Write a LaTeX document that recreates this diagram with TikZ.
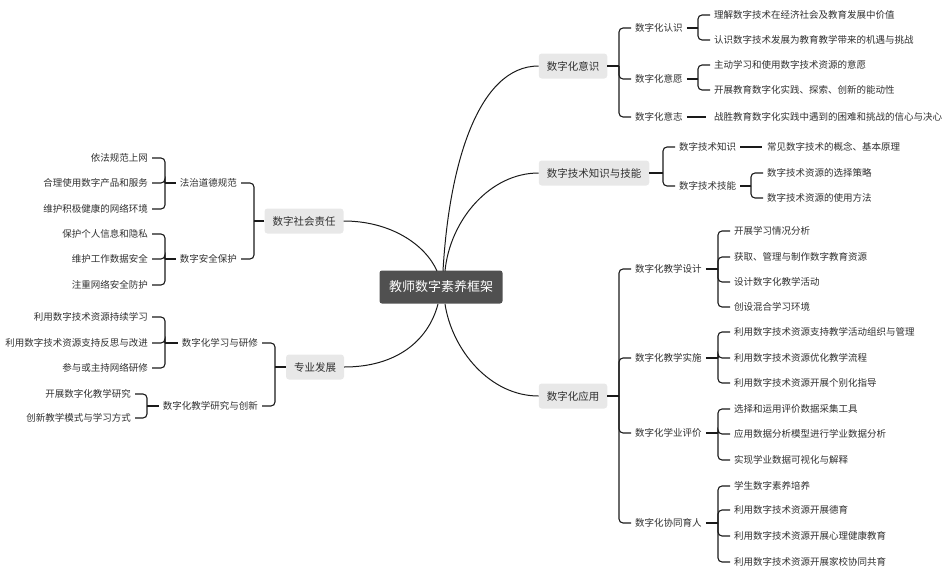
\documentclass[tikz,border=0pt]{standalone}
\usepackage{fontspec}
\setmainfont{Noto Sans CJK SC}
\definecolor{rootgray}{HTML}{505050}
\definecolor{maingray}{HTML}{E8E8E8}
\definecolor{txt}{HTML}{303030}
\definecolor{lnc}{HTML}{1A1A1A}
\begin{document}
\begin{tikzpicture}[x=1pt,y=-1pt,
  root/.style={fill=rootgray,text=white,rounded corners=2.5pt,font=\fontsize{13}{15}\selectfont,minimum width=123pt,minimum height=33pt,inner sep=0pt},
  mainbox/.style={fill=maingray,text=txt,rounded corners=3pt,font=\fontsize{10.5}{12}\selectfont,inner xsep=8pt,minimum height=25pt,inner ysep=0pt},
  subl/.style={text=txt,font=\fontsize{9.5}{11}\selectfont,inner xsep=4pt,inner ysep=2pt},
  ln/.style={draw=lnc,line width=1.1pt},
  br/.style={draw=lnc,line width=1.1pt,rounded corners=4pt},
  cv/.style={draw=lnc,line width=1pt}]
\useasboundingbox (0,0) rectangle (942,565);
% root
\node[root] (r) at (441,287) {教师数字素养框架};
% main branches
\node[mainbox] (m1) at (573,66) {数字化意识};
\node[mainbox] (m2) at (594,173) {数字技术知识与技能};
\node[mainbox] (m3) at (573,396) {数字化应用};
\node[mainbox] (m4) at (304,221) {数字社会责任};
\node[mainbox] (m5) at (315,367) {专业发展};
% curves from root
\draw[cv] (443,271) .. controls (449,165) and (478,66) .. (m1.west);
\draw[cv] (445,271) .. controls (450,220) and (490,173) .. (m2.west);
\draw[cv] (445,304) .. controls (452,350) and (490,396) .. (m3.west);
\draw[cv] (437,271) .. controls (425,244) and (390,221) .. (m4.east);
\draw[cv] (438,304) .. controls (428,342) and (395,367) .. (m5.east);
% ---------- m1 ----------
\node[subl,anchor=west] (a1) at (631,28) {数字化认识};
\node[subl,anchor=west] (a2) at (631,79) {数字化意愿};
\node[subl,anchor=west] (a3) at (631,117) {数字化意志};
\draw[ln] (m1.east) -- (619,66);
\foreach \c in {a1,a2,a3} \draw[br] (619,66) |- (\c.west);
\node[subl,anchor=west] (a11) at (710,15) {理解数字技术在经济社会及教育发展中价值};
\node[subl,anchor=west] (a12) at (710,40) {认识数字技术发展为教育教学带来的机遇与挑战};
\draw[ln] (a1.east) -- (698,28);
\foreach \c in {a11,a12} \draw[br] (698,28) |- (\c.west);
\node[subl,anchor=west] (a21) at (710,65) {主动学习和使用数字技术资源的意愿};
\node[subl,anchor=west] (a22) at (710,90) {开展教育数字化实践、探索、创新的能动性};
\draw[ln] (a2.east) -- (698,79);
\foreach \c in {a21,a22} \draw[br] (698,79) |- (\c.west);
\node[subl,anchor=west] (a31) at (710,117) {战胜教育数字化实践中遇到的困难和挑战的信心与决心};
\draw[ln] (a3.east) -- ([xshift=-4pt]a31.west);
% ---------- m2 ----------
\node[subl,anchor=west] (b1) at (675,147) {数字技术知识};
\node[subl,anchor=west] (b2) at (675,186) {数字技术技能};
\draw[ln] (m2.east) -- (663,173);
\foreach \c in {b1,b2} \draw[br] (663,173) |- (\c.west);
\node[subl,anchor=west] (b11) at (763,147) {常见数字技术的概念、基本原理};
\draw[ln] (b1.east) -- ([xshift=-1pt]b11.west);
\node[subl,anchor=west] (b21) at (763,173) {数字技术资源的选择策略};
\node[subl,anchor=west] (b22) at (763,198) {数字技术资源的使用方法};
\draw[ln] (b2.east) -- (751,186);
\foreach \c in {b21,b22} \draw[br] (751,186) |- (\c.west);
% ---------- m3 ----------
\node[subl,anchor=west] (c1) at (631,269) {数字化教学设计};
\node[subl,anchor=west] (c2) at (631,358) {数字化教学实施};
\node[subl,anchor=west] (c3) at (631,433) {数字化学业评价};
\node[subl,anchor=west] (c4) at (631,523) {数字化协同育人};
\draw[ln] (m3.east) -- (619,396);
\foreach \c in {c1,c2,c3,c4} \draw[br] (619,396) |- (\c.west);
\node[subl,anchor=west] (c11) at (730,231) {开展学习情况分析};
\node[subl,anchor=west] (c12) at (730,257) {获取、管理与制作数字教育资源};
\node[subl,anchor=west] (c13) at (730,282) {设计数字化教学活动};
\node[subl,anchor=west] (c14) at (730,307) {创设混合学习环境};
\draw[ln] (c1.east) -- (718,269);
\foreach \c in {c11,c12,c13,c14} \draw[br] (718,269) |- (\c.west);
\node[subl,anchor=west] (c21) at (730,332) {利用数字技术资源支持教学活动组织与管理};
\node[subl,anchor=west] (c22) at (730,358) {利用数字技术资源优化教学流程};
\node[subl,anchor=west] (c23) at (730,383) {利用数字技术资源开展个别化指导};
\draw[ln] (c2.east) -- (718,358);
\foreach \c in {c21,c22,c23} \draw[br] (718,358) |- (\c.west);
\node[subl,anchor=west] (c31) at (730,409) {选择和运用评价数据采集工具};
\node[subl,anchor=west] (c32) at (730,434) {应用数据分析模型进行学业数据分析};
\node[subl,anchor=west] (c33) at (730,460) {实现学业数据可视化与解释};
\draw[ln] (c3.east) -- (718,433);
\foreach \c in {c31,c32,c33} \draw[br] (718,433) |- (\c.west);
\node[subl,anchor=west] (c41) at (730,486) {学生数字素养培养};
\node[subl,anchor=west] (c42) at (730,510) {利用数字技术资源开展德育};
\node[subl,anchor=west] (c43) at (730,536) {利用数字技术资源开展心理健康教育};
\node[subl,anchor=west] (c44) at (730,562) {利用数字技术资源开展家校协同共育};
\draw[ln] (c4.east) -- (718,523);
\foreach \c in {c41,c42,c43,c44} \draw[br] (718,523) |- (\c.west);
% ---------- m4 ----------
\node[subl,anchor=east] (d1) at (241,183) {法治道德规范};
\node[subl,anchor=east] (d2) at (241,259) {数字安全保护};
\draw[ln] (m4.west) -- (254,221);
\foreach \c in {d1,d2} \draw[br] (254,221) |- (\c.east);
\node[subl,anchor=east] (d11) at (152,158) {依法规范上网};
\node[subl,anchor=east] (d12) at (152,183) {合理使用数字产品和服务};
\node[subl,anchor=east] (d13) at (152,209) {维护积极健康的网络环境};
\draw[ln] (d1.west) -- (165,183);
\foreach \c in {d11,d12,d13} \draw[br] (165,183) |- (\c.east);
\node[subl,anchor=east] (d21) at (152,234) {保护个人信息和隐私};
\node[subl,anchor=east] (d22) at (152,259) {维护工作数据安全};
\node[subl,anchor=east] (d23) at (152,285) {注重网络安全防护};
\draw[ln] (d2.west) -- (165,259);
\foreach \c in {d21,d22,d23} \draw[br] (165,259) |- (\c.east);
% ---------- m5 ----------
\node[subl,anchor=east] (e1) at (262,343) {数字化学习与研修};
\node[subl,anchor=east] (e2) at (262,406) {数字化教学研究与创新};
\draw[ln] (m5.west) -- (275,367);
\foreach \c in {e1,e2} \draw[br] (275,367) |- (\c.east);
\node[subl,anchor=east] (e11) at (152,317) {利用数字技术资源持续学习};
\node[subl,anchor=east] (e12) at (152,343) {利用数字技术资源支持反思与改进};
\node[subl,anchor=east] (e13) at (152,368) {参与或主持网络研修};
\draw[ln] (e1.west) -- (165,343);
\foreach \c in {e11,e12,e13} \draw[br] (165,343) |- (\c.east);
\node[subl,anchor=east] (e21) at (135,394) {开展数字化教学研究};
\node[subl,anchor=east] (e22) at (135,418) {创新教学模式与学习方式};
\draw[ln] (e2.west) -- (147,406);
\foreach \c in {e21,e22} \draw[br] (147,406) |- (\c.east);
\end{tikzpicture}
\end{document}
